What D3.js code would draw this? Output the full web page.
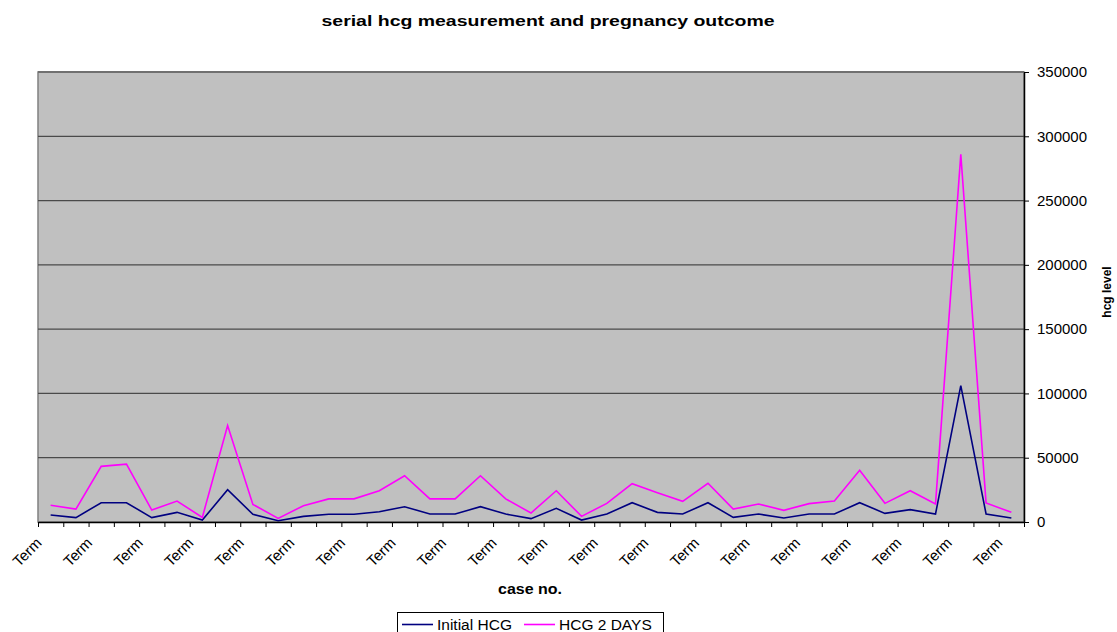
<!DOCTYPE html>
<html>
<head>
<meta charset="utf-8">
<script src="https://cdn.jsdelivr.net/npm/d3@7"></script>
<style>
  html, body { margin: 0; padding: 0; background: #ffffff; }
  svg { display: block; font-family: "Liberation Sans", Arial, sans-serif; }
</style>
</head>
<body>
<svg id="chart" width="1117" height="632"></svg>
<script>
// Case outcomes (x categories)
const categories = d3.range(39).map(() => "Term");

// hCG levels per case
const initialHCG = [5400, 3400, 15000, 15000, 3400, 7500, 1500, 25100, 6000, 1000,
  4400, 6000, 6000, 8000, 11900, 6200, 6200, 11900, 6200, 2600,
  10600, 1500, 6200, 15000, 7500, 6200, 15000, 3600, 6200, 3100,
  6200, 6200, 15000, 6700, 9600, 6200, 106000, 6200, 3100];

const hcg2Days = [13000, 10000, 43300, 45000, 9300, 16300, 3600, 75000, 13700, 2800,
  12700, 18000, 18000, 24300, 36000, 18000, 18000, 36000, 18000, 7000,
  24300, 4400, 14500, 29800, 22800, 16100, 30100, 10100, 14000, 9100,
  14300, 16300, 40200, 14500, 24300, 14000, 286000, 14800, 7500];

const yTicks = [0, 50000, 100000, 150000, 200000, 250000, 300000, 350000];

const seriesNames = ["Initial HCG", "HCG 2 DAYS"];
const seriesColors = ["#000080", "#ff00ff"];

const svg = d3.select("#chart");
const plot = { left: 38, right: 1024, top: 72, bottom: 522 };

// category boundaries sit on integers; points at the centre of each slot
const x = d3.scaleLinear().domain([0, categories.length]).range([plot.left, plot.right]);
const y = d3.scaleLinear().domain([0, 350000]).range([plot.bottom, plot.top]);

// plot background
svg.append("rect")
  .attr("x", plot.left).attr("y", plot.top)
  .attr("width", plot.right - plot.left).attr("height", plot.bottom - plot.top)
  .attr("fill", "#c0c0c0")
  .attr("stroke", "#808080").attr("stroke-width", 1.5);

// horizontal gridlines
svg.append("g")
  .selectAll("line")
  .data(yTicks.filter(v => v > 0))
  .join("line")
  .attr("x1", plot.left).attr("x2", plot.right)
  .attr("y1", d => y(d)).attr("y2", d => y(d))
  .attr("stroke", d => d === 350000 ? "#707070" : "#4a4a4a")
  .attr("stroke-width", d => d === 350000 ? 2 : 1.3);

// series lines
const series = [initialHCG, hcg2Days];
const line = d3.line()
  .x((d, i) => x(i + 0.5))
  .y(d => y(d));

svg.append("g")
  .selectAll("path")
  .data(series)
  .join("path")
  .attr("d", d => line(d))
  .attr("fill", "none")
  .attr("stroke", (d, i) => seriesColors[i])
  .attr("stroke-width", 1.6)
  .attr("stroke-linejoin", "miter");

// bottom axis with ticks at category boundaries
const xAxis = d3.axisBottom(x)
  .tickValues(d3.range(categories.length + 1))
  .tickFormat("")
  .tickSize(5)
  .tickSizeOuter(0);

const gx = svg.append("g")
  .attr("transform", `translate(0,${plot.bottom})`)
  .call(xAxis);
gx.select(".domain").attr("stroke", "#000").attr("stroke-width", 1.5);
gx.selectAll(".tick line").attr("stroke", "#000").attr("stroke-width", 1);

// rotated category labels on every other case
svg.append("g")
  .selectAll("text")
  .data(categories.map((c, i) => ({ c, i })).filter(d => d.i % 2 === 0))
  .join("text")
  .attr("transform", d => `translate(${x(d.i + 0.5) - 8},${plot.bottom + 22}) rotate(-45)`)
  .attr("text-anchor", "end")
  .attr("font-size", 15)
  .attr("fill", "#000")
  .text(d => d.c);

// right value axis
const yAxis = d3.axisRight(y)
  .tickValues(yTicks)
  .tickFormat(d3.format("d"))
  .tickSize(5)
  .tickSizeOuter(0)
  .tickPadding(8);

const gy = svg.append("g")
  .attr("transform", `translate(${plot.right},0)`)
  .call(yAxis);
gy.select(".domain").attr("stroke", "#000").attr("stroke-width", 1.5);
gy.selectAll(".tick line").attr("stroke", "#000");
gy.selectAll(".tick text")
  .attr("font-size", 15)
  .attr("fill", "#000")
  .attr("font-family", "\"Liberation Sans\", Arial, sans-serif");

// titles
svg.append("text")
  .attr("x", 548).attr("y", 26)
  .attr("text-anchor", "middle")
  .attr("font-size", 15).attr("font-weight", "bold")
  .attr("textLength", 453).attr("lengthAdjust", "spacingAndGlyphs")
  .text("serial hcg measurement and pregnancy outcome");

svg.append("text")
  .attr("x", 530).attr("y", 594)
  .attr("text-anchor", "middle")
  .attr("font-size", 15).attr("font-weight", "bold")
  .attr("textLength", 64).attr("lengthAdjust", "spacingAndGlyphs")
  .text("case no.");

svg.append("text")
  .attr("transform", "translate(1111,292) rotate(-90)")
  .attr("text-anchor", "middle")
  .attr("font-size", 12).attr("font-weight", "bold")
  .text("hcg level");

// legend
const legend = svg.append("g");
legend.append("rect")
  .attr("x", 397.5).attr("y", 612.5)
  .attr("width", 266).attr("height", 30)
  .attr("fill", "#fff").attr("stroke", "#000").attr("stroke-width", 1);

const legendX = [402, 524];
const items = legend.selectAll("g.item")
  .data(seriesNames)
  .join("g")
  .attr("class", "item")
  .attr("transform", (d, i) => `translate(${legendX[i]},624.5)`);
items.append("line")
  .attr("x1", 0).attr("x2", 31)
  .attr("y1", 0).attr("y2", 0)
  .attr("stroke", (d, i) => seriesColors[i])
  .attr("stroke-width", 1.6);
items.append("text")
  .attr("x", 35).attr("y", 5)
  .attr("font-size", 15.5)
  .text(d => d);
</script>
</body>
</html>
